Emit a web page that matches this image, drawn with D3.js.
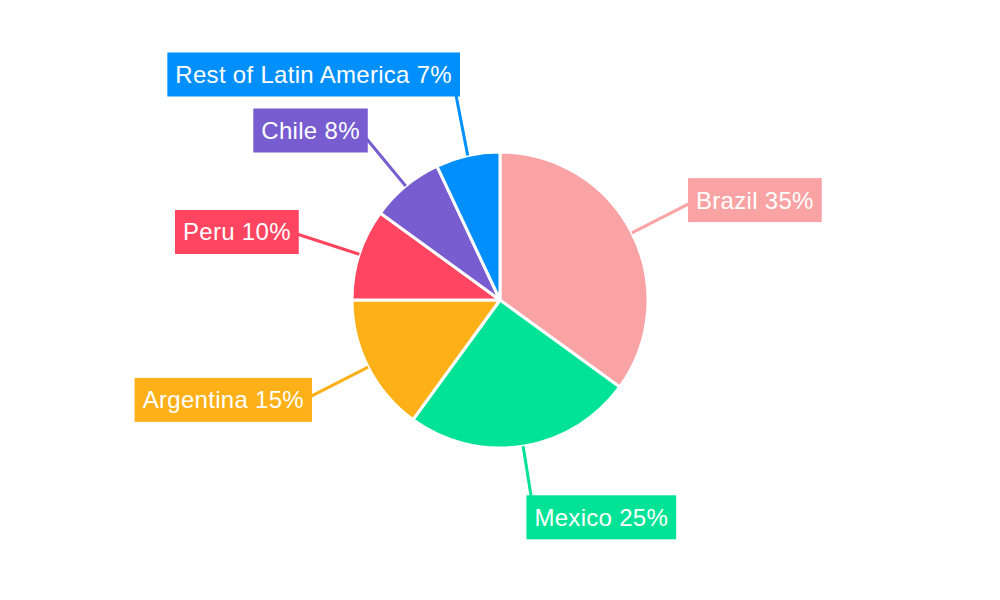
<!DOCTYPE html>
<html>
<head>
<meta charset="utf-8">
<script src="https://cdn.jsdelivr.net/npm/d3@7"></script>
<style>
  body { margin: 0; background: #fff; }
  text { font-family: "Liberation Sans", Arial, sans-serif; }
</style>
</head>
<body>
<svg id="chart" width="1000" height="600"></svg>
<script>
var regions = ["Brazil", "Mexico", "Argentina", "Peru", "Chile", "Rest of Latin America"];
var shares = [35, 25, 15, 10, 8, 7];
var colors = ["#f9a3a4", "#00e396", "#feb019", "#ff4560", "#775dd0", "#008ffb"];

var width = 1000;
var height = 600;
var cx = 500;
var cy = 300;
var radius = 148;
var labelRadius = 220;
var pad = 8;
var boxHeight = 44;
var minGap = 12;

var svg = d3.select("#chart");
var g = svg.append("g").attr("transform", "translate(" + cx + "," + cy + ")");

var data = regions.map(function (name, i) {
	return { name: name, value: shares[i], color: colors[i] };
});

var pie = d3.pie().sort(null).value(function (d) { return d.value; });
var arcs = pie(data);

var arc = d3.arc().innerRadius(0).outerRadius(radius);

function polar(a, r) {
	return [r * Math.sin(a), -r * Math.cos(a)];
}

// Slices
g.selectAll("path.slice")
	.data(arcs)
	.enter().append("path")
	.attr("class", "slice")
	.attr("d", arc)
	.attr("fill", function (d) { return d.data.color; })
	.attr("stroke", "#fff")
	.attr("stroke-width", 3)
	.attr("stroke-linejoin", "round");

// Label anchors
var labels = arcs.map(function (d) {
	var mid = (d.startAngle + d.endAngle) / 2;
	var p = polar(mid, labelRadius);
	return {
		d: d,
		mid: mid,
		right: Math.sin(mid) >= 0,
		edge: polar(mid, radius),
		x: p[0],
		y: p[1]
	};
});

// simple collision pass for labels on the left side (push upward)
var left = labels.filter(function (l) { return !l.right; })
	.sort(function (a, b) { return b.y - a.y; });
for (var i = 1; i < left.length; i++) {
	var limit = left[i - 1].y - boxHeight - minGap;
	if (left[i].y > limit) left[i].y = limit;
}

// Leader lines
g.selectAll("line.leader")
	.data(labels)
	.enter().append("line")
	.attr("class", "leader")
	.attr("x1", function (l) { return l.edge[0]; })
	.attr("y1", function (l) { return l.edge[1]; })
	.attr("x2", function (l) { return l.x; })
	.attr("y2", function (l) { return l.y; })
	.attr("stroke", function (l) { return l.d.data.color; })
	.attr("stroke-width", 3);

// Label boxes
var lab = g.selectAll("g.label")
	.data(labels)
	.enter().append("g")
	.attr("class", "label");

var rects = lab.append("rect")
	.attr("fill", function (l) { return l.d.data.color; });

lab.append("text")
	.attr("x", function (l) { return l.x; })
	.attr("y", function (l) { return l.y; })
	.attr("dy", "0.35em")
	.attr("text-anchor", function (l) { return l.right ? "start" : "end"; })
	.attr("fill", "#fff")
	.attr("font-size", 24)
	.attr("letter-spacing", 0.3)
	.text(function (l) { return l.d.data.name + " " + l.d.data.value + "%"; })
	.each(function (l) { l.w = this.getBBox().width; });

rects
	.attr("x", function (l) { return (l.right ? l.x : l.x - l.w) - pad; })
	.attr("y", function (l) { return l.y - boxHeight / 2; })
	.attr("width", function (l) { return l.w + pad * 2; })
	.attr("height", boxHeight);
</script>
</body>
</html>
